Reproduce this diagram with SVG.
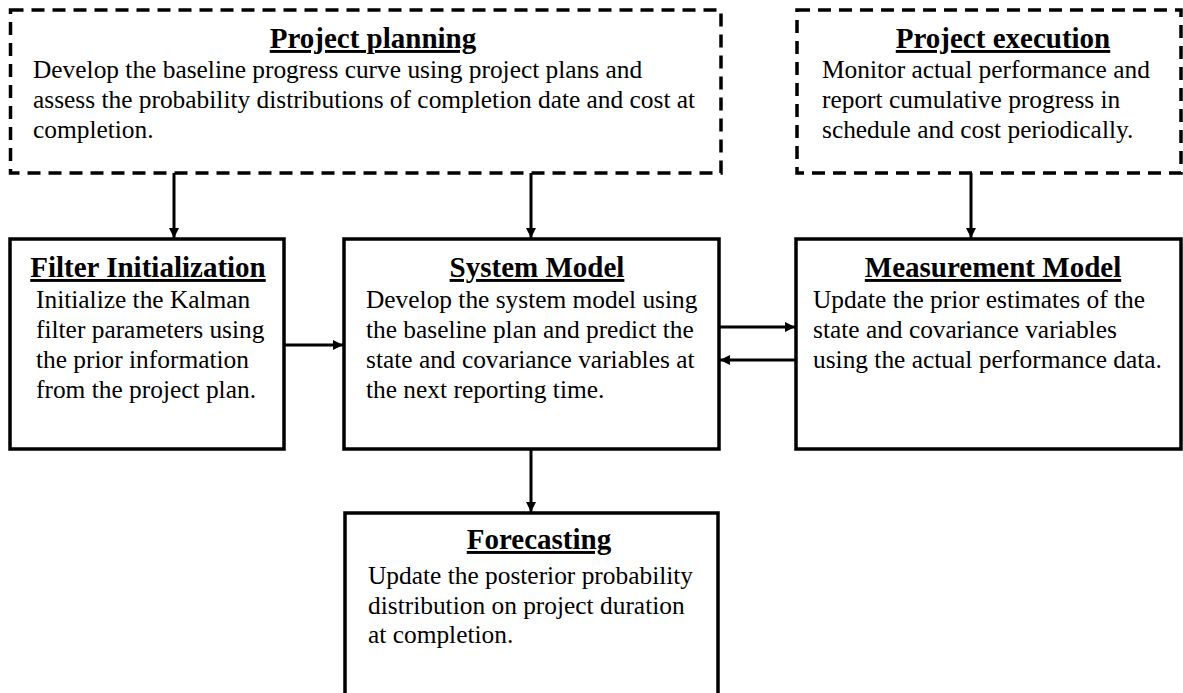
<svg xmlns="http://www.w3.org/2000/svg" width="1183" height="693" viewBox="0 0 1183 693">
  <style>
    .dashed { fill: #ffffff; stroke: #000000; stroke-width: 3.5; stroke-dasharray: 13 8; }
    .solid { fill: #ffffff; stroke: #000000; stroke-width: 3.5; }
    .title { font-family: "Liberation Serif", "Times New Roman", serif; font-size: 29px; font-weight: bold; text-anchor: middle; text-decoration: underline; fill: #000; }
    .body { font-family: "Liberation Serif", "Times New Roman", serif; font-size: 25.4px; fill: #000; }
    .conn { stroke: #000000; stroke-width: 3; fill: none; marker-end: url(#arrow); }
  </style>
  <defs>
    <marker id="arrow" viewBox="0 0 10 10" refX="10" refY="5" markerWidth="10" markerHeight="10" markerUnits="userSpaceOnUse" orient="auto">
      <path d="M0,0 L10,5 L0,10 Z" fill="#000"/>
    </marker>
  </defs>
  <rect width="1183" height="693" fill="#ffffff"/>

  <!-- Project planning -->
  <g id="project-planning">
    <rect class="dashed" x="10.5" y="10" width="710.5" height="163"/>
    <text class="title" x="373" y="48">Project planning</text>
    <text class="body" x="33" y="78">Develop the baseline progress curve using project plans and</text>
    <text class="body" x="33" y="108">assess the probability distributions of completion date and cost at</text>
    <text class="body" x="33" y="138">completion.</text>
  </g>

  <!-- Project execution -->
  <g id="project-execution">
    <rect class="dashed" x="797" y="10" width="384" height="163"/>
    <text class="title" x="1003" y="48">Project execution</text>
    <text class="body" x="822" y="78">Monitor actual performance and</text>
    <text class="body" x="822" y="108">report cumulative progress in</text>
    <text class="body" x="822" y="138">schedule and cost periodically.</text>
  </g>

  <!-- Filter Initialization -->
  <g id="filter-initialization">
    <rect class="solid" x="10" y="239" width="274" height="210"/>
    <text class="title" x="148" y="277">Filter Initialization</text>
    <text class="body" x="36" y="308">Initialize the Kalman</text>
    <text class="body" x="36" y="338">filter parameters using</text>
    <text class="body" x="36" y="368">the prior information</text>
    <text class="body" x="36" y="398">from the project plan.</text>
  </g>

  <!-- System Model -->
  <g id="system-model">
    <rect class="solid" x="344" y="239" width="375" height="210"/>
    <text class="title" x="537" y="277">System Model</text>
    <text class="body" x="366" y="308">Develop the system model using</text>
    <text class="body" x="366" y="338">the baseline plan and predict the</text>
    <text class="body" x="366" y="368">state and covariance variables at</text>
    <text class="body" x="366" y="398">the next reporting time.</text>
  </g>

  <!-- Measurement Model -->
  <g id="measurement-model">
    <rect class="solid" x="796" y="239" width="385" height="210"/>
    <text class="title" x="993" y="277">Measurement Model</text>
    <text class="body" x="813" y="308">Update the prior estimates of the</text>
    <text class="body" x="813" y="338">state and covariance variables</text>
    <text class="body" x="813" y="368">using the actual performance data.</text>
  </g>

  <!-- Forecasting (box runs past the lower edge) -->
  <g id="forecasting">
    <rect class="solid" x="345" y="513" width="373" height="220"/>
    <text class="title" x="539" y="549">Forecasting</text>
    <text class="body" x="368" y="584">Update the posterior probability</text>
    <text class="body" x="368" y="613.5">distribution on project duration</text>
    <text class="body" x="368" y="643">at completion.</text>
  </g>

  <!-- Connectors -->
  <g id="connectors">
    <line class="conn" x1="174" y1="173" x2="174" y2="238"/>
    <line class="conn" x1="531" y1="173" x2="531" y2="238"/>
    <line class="conn" x1="971" y1="173" x2="971" y2="238"/>
    <line class="conn" x1="284" y1="345" x2="343" y2="345"/>
    <line class="conn" x1="719" y1="327" x2="795" y2="327"/>
    <line class="conn" x1="796" y1="360" x2="720" y2="360"/>
    <line class="conn" x1="531" y1="449" x2="531" y2="512"/>
  </g>
</svg>
